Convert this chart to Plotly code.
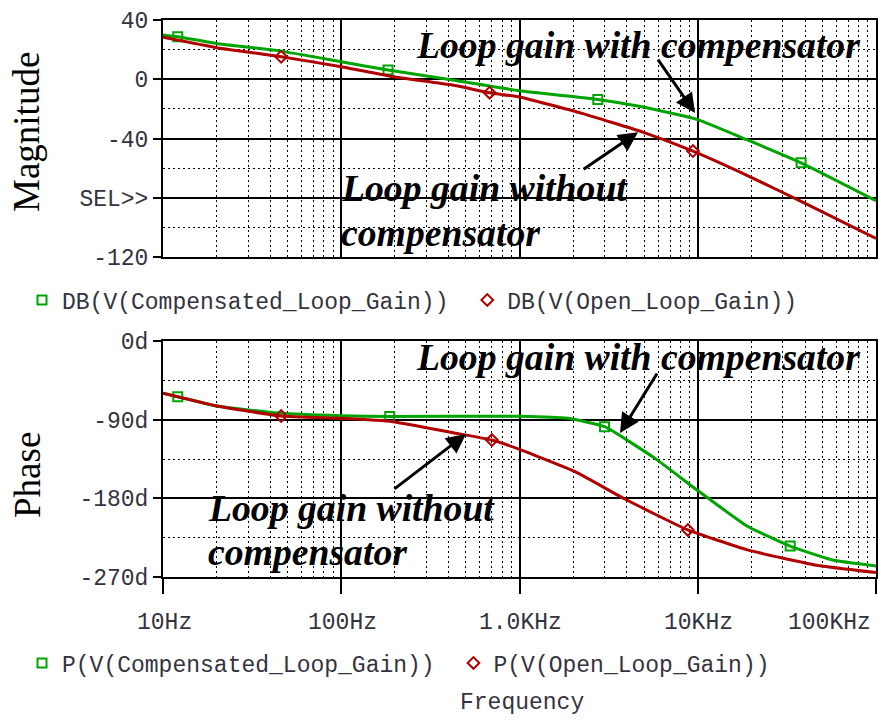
import math
import plotly.graph_objects as go

# ---- Bode data: loop gain with and without the compensator ----
freq_mag_comp = [10, 12.1, 20, 46, 100, 183, 420, 1000, 2750, 4870, 9900, 19000, 38000, 100000]
mag_comp = [29.9, 28.7, 24.2, 19.0, 11.8, 6.2, -0.5, -7.8, -13.6, -18.6, -27.1, -41.0, -56.4, -82.0]
mag_comp_marks = [12.1, 183, 2750, 38000]

freq_mag_open = [10, 20, 46, 100, 195, 420, 680, 1000, 2240, 4870, 9400, 19000, 38000, 100000]
mag_open = [28.3, 21.3, 15.2, 8.5, 1.7, -3.9, -9.1, -12.0, -23.0, -35.5, -48.5, -65.0, -82.5, -107.5]
mag_open_marks = [46, 680, 9400]

freq_ph_comp = [10, 12.1, 20, 46, 100, 187, 1000, 1870, 3000, 5760, 9900, 19000, 33000, 57000, 100000]
ph_comp = [-59.8, -63.7, -74.4, -82.8, -85.5, -86.5, -86.0, -88.5, -98.0, -134.3, -170.5, -212.0, -234.6, -250.6, -257.4]
ph_comp_marks = [12.1, 187, 3000, 33000]

freq_ph_open = [10, 20, 46, 100, 195, 424, 700, 1000, 2050, 3900, 8800, 19000, 45500, 100000]
ph_open = [-59.8, -74.4, -85.8, -88.5, -92.3, -104.9, -113.3, -124.0, -149.5, -180.8, -216.2, -239.0, -256.3, -265.0]
ph_open_marks = [46, 700, 8800]

# axis ticks
decades = [10, 100, 1000, 10000, 100000]
freq_labels = ["10Hz", "100Hz", "1.0KHz", "10KHz", "100KHz"]
mag_ticks = [40, 0, -40, -80, -120]
mag_ticktext = ["40", "0", "-40", "SEL>>", "-120"]
mag_minor = [20, -20, -60, -100]
ph_ticks = [0, -90, -180, -270]
ph_ticktext = ["0d", "-90d", "-180d", "-270d"]
ph_minor = [-45, -135, -225]

W, H = 878, 722
GREEN = "#00a400"
RED = "#b00000"
MONO = "Liberation Mono"
SERIF = "Liberation Serif"
TXT = "#33333f"
NBSP = "\u00a0"


def px(x):
    return x / W


def py(y):
    return 1 - y / H


fig = go.Figure()


def add_series(freqs, vals, marks, color, symbol, name, xa, ya, legend):
    fig.add_trace(go.Scatter(
        x=freqs, y=vals, mode="lines",
        line=dict(color=color, width=3, shape="spline", smoothing=0.4),
        xaxis=xa, yaxis=ya, showlegend=False, hoverinfo="skip"))
    idx = [freqs.index(f) for f in marks]
    fig.add_trace(go.Scatter(
        x=[freqs[i] for i in idx], y=[vals[i] for i in idx], mode="markers",
        marker=dict(symbol=symbol, size=9, color=color, line=dict(color=color, width=2)),
        name=name, xaxis=xa, yaxis=ya, legend=legend))


add_series(freq_mag_comp, mag_comp, mag_comp_marks, GREEN, "square-open",
           "DB(V(Compensated_Loop_Gain))" + NBSP, "x", "y", "legend")
add_series(freq_mag_open, mag_open, mag_open_marks, RED, "diamond-open",
           "DB(V(Open_Loop_Gain))", "x", "y", "legend")
add_series(freq_ph_comp, ph_comp, ph_comp_marks, GREEN, "square-open",
           "P(V(Compensated_Loop_Gain))" + NBSP, "x2", "y2", "legend2")
add_series(freq_ph_open, ph_open, ph_open_marks, RED, "diamond-open",
           "P(V(Open_Loop_Gain))", "x2", "y2", "legend2")

minor_freqs = [m * d for d in decades[:-1] for m in range(2, 10)]
x_dom = [px(163), px(876)]


def xaxis(anchor, with_ticks):
    return dict(
        type="log", range=[1, 5], domain=x_dom, anchor=anchor, automargin=False,
        tickvals=decades, showticklabels=False,
        ticks="outside" if with_ticks else "", ticklen=15, tickwidth=2, tickcolor="black",
        showgrid=True, gridcolor="black", gridwidth=2,
        showline=True, linecolor="black", linewidth=2, mirror=True, zeroline=False,
        minor=dict(tickvals=minor_freqs, showgrid=True, gridcolor="black",
                   gridwidth=1, griddash="2px,3px", ticks=""),
    )


def yaxis(anchor, rng, ticks, text, minor, dom):
    return dict(
        range=rng, domain=dom, anchor=anchor, automargin=False,
        tickvals=ticks, ticktext=text, ticks="outside", ticklen=8, tickwidth=2,
        tickcolor="black", tickfont=dict(family=MONO, size=23, color=TXT),
        showgrid=True, gridcolor="black", gridwidth=2,
        showline=True, linecolor="black", linewidth=2, mirror=True, zeroline=False,
        minor=dict(tickvals=minor, showgrid=True, gridcolor="black",
                   gridwidth=1, griddash="2px,3px", ticks=""),
    )


legend_style = dict(orientation="h", xanchor="left", yanchor="middle",
                    font=dict(family=MONO, size=23, color=TXT),
                    bgcolor="rgba(0,0,0,0)", itemclick=False)

fig.update_layout(
    width=W, height=H, margin=dict(l=0, r=0, t=0, b=0, pad=0, autoexpand=False),
    paper_bgcolor="white", plot_bgcolor="white",
    xaxis=xaxis("y", False),
    yaxis=yaxis("x", [-120, 40], mag_ticks, mag_ticktext, mag_minor, [py(257), py(20)]),
    xaxis2=xaxis("y2", True),
    yaxis2=yaxis("x2", [-270, 0], ph_ticks, ph_ticktext, ph_minor, [py(577), py(341)]),
    legend=dict(x=px(22), y=py(300), **legend_style),
    legend2=dict(x=px(22), y=py(663), **legend_style),
)

annotations = []

# frequency tick labels under the phase plot
for f, lab in zip(decades, freq_labels):
    last = f == decades[-1]
    annotations.append(dict(
        x=math.log10(f), xref="x2", y=py(623), yref="paper", text=lab, showarrow=False,
        xanchor="right" if last else "center", yanchor="middle",
        xshift=-3 if last else 1,
        font=dict(family=MONO, size=23, color=TXT)))

annotations.append(dict(x=px(458), y=py(703), xref="paper", yref="paper", text="Frequency",
                        showarrow=False, xanchor="left", yanchor="middle",
                        font=dict(family=MONO, size=23, color=TXT)))

# axis titles
annotations.append(dict(x=px(26), y=py(132), xref="paper", yref="paper", text="Magnitude",
                        textangle=-90, showarrow=False, xanchor="center", yanchor="middle",
                        font=dict(family=SERIF, size=37, color="black")))
annotations.append(dict(x=px(27), y=py(475), xref="paper", yref="paper", text="Phase",
                        textangle=-90, showarrow=False, xanchor="center", yanchor="middle",
                        font=dict(family=SERIF, size=37, color="black")))

# callout labels, one line each
call_font = dict(family=SERIF, size=37.7, color="black")
for x0, yc, txt in [
    (414, 45, "Loop gain with compensator"),
    (339, 188, "Loop gain without"),
    (339, 233, "compensator"),
    (414, 357, "Loop gain with compensator"),
    (206, 508, "Loop gain without"),
    (206, 552, "compensator"),
]:
    annotations.append(dict(x=px(x0), y=py(yc), xref="paper", yref="paper",
                            text="<b><i>" + txt + "</i></b>", showarrow=False,
                            xanchor="left", yanchor="middle", align="left", font=call_font))

# callout arrows (head -> tail, in log10(frequency) and axis units)
arrows = [
    ("x", "y", 3.985, -22.8, 3.771, 14.3),
    ("x", "y", 3.665, -35.7, 3.351, -61.4),
    ("x2", "y2", 3.564, -105.3, 3.777, -35.5),
    ("x2", "y2", 2.700, -106.4, 2.290, -170.5),
]
for xr, yr, hx, hy, tx, ty in arrows:
    annotations.append(dict(x=hx, y=hy, xref=xr, yref=yr, ax=tx, ay=ty, axref=xr, ayref=yr,
                            text="", showarrow=True, arrowhead=2, arrowsize=1.3,
                            arrowwidth=3, arrowcolor="black"))

fig.update_layout(annotations=annotations)

fig.write_html("out.html")
